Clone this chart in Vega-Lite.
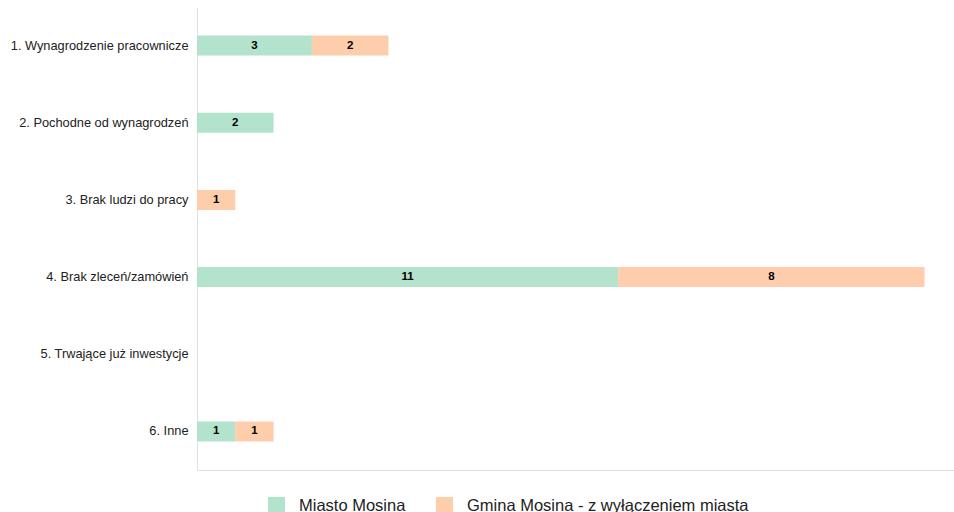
{
  "$schema": "https://vega.github.io/schema/vega-lite/v6.json",
  "autosize": "none",
  "width": 757,
  "height": 463,
  "padding": {"left": 197, "top": 7, "right": 0, "bottom": 42},
  "config": {"view": {"stroke": null}, "font": "Liberation Sans"},
  "data": {"values": [
    {"kategoria": "1. Wynagrodzenie pracownicze", "obszar": "Miasto Mosina", "liczba": 3},
    {"kategoria": "1. Wynagrodzenie pracownicze", "obszar": "Gmina Mosina - z wyłączeniem miasta", "liczba": 2},
    {"kategoria": "2. Pochodne od wynagrodzeń", "obszar": "Miasto Mosina", "liczba": 2},
    {"kategoria": "3. Brak ludzi do pracy", "obszar": "Gmina Mosina - z wyłączeniem miasta", "liczba": 1},
    {"kategoria": "4. Brak zleceń/zamówień", "obszar": "Miasto Mosina", "liczba": 11},
    {"kategoria": "4. Brak zleceń/zamówień", "obszar": "Gmina Mosina - z wyłączeniem miasta", "liczba": 8},
    {"kategoria": "6. Inne", "obszar": "Miasto Mosina", "liczba": 1},
    {"kategoria": "6. Inne", "obszar": "Gmina Mosina - z wyłączeniem miasta", "liczba": 1}
  ]},
  "encoding": {
    "y": {
      "field": "kategoria", "type": "nominal",
      "scale": {"domain": ["1. Wynagrodzenie pracownicze", "2. Pochodne od wynagrodzeń", "3. Brak ludzi do pracy", "4. Brak zleceń/zamówień", "5. Trwające już inwestycje", "6. Inne"]},
      "axis": {"title": null, "ticks": false, "labelPadding": 9, "labelFontSize": 12.8, "labelColor": "#222222", "domainColor": "#e0e0e0", "labelLimit": 300}
    },
    "x": {
      "field": "liczba", "type": "quantitative", "stack": "zero",
      "scale": {"domain": [0, 19.77], "nice": false},
      "axis": {"title": null, "labels": false, "ticks": false, "grid": false, "domainColor": "#e0e0e0"}
    }
  },
  "layer": [
    {
      "mark": {"type": "bar", "size": 20},
      "encoding": {
        "color": {
          "field": "obszar", "type": "nominal",
          "scale": {"domain": ["Miasto Mosina", "Gmina Mosina - z wyłączeniem miasta"], "range": ["#b3e2cd", "#fdcdac"]},
          "legend": {"title": null, "orient": "none", "legendX": 71, "legendY": 490, "direction": "horizontal", "symbolType": "square", "symbolSize": 289, "symbolStrokeWidth": 0, "labelFontSize": 16.5, "labelColor": "#222222", "columnPadding": 30, "labelOffset": 14, "labelLimit": 400}
        },
        "order": {"field": "obszar", "sort": "descending"}
      }
    },
    {
      "mark": {"type": "text", "fontWeight": "bold", "fontSize": 11.5, "color": "#000000", "baseline": "middle"},
      "encoding": {
        "x": {"field": "liczba", "type": "quantitative", "stack": "zero", "bandPosition": 0.5},
        "text": {"field": "liczba", "type": "quantitative"},
        "order": {"field": "obszar", "sort": "descending"}
      }
    }
  ]
}
